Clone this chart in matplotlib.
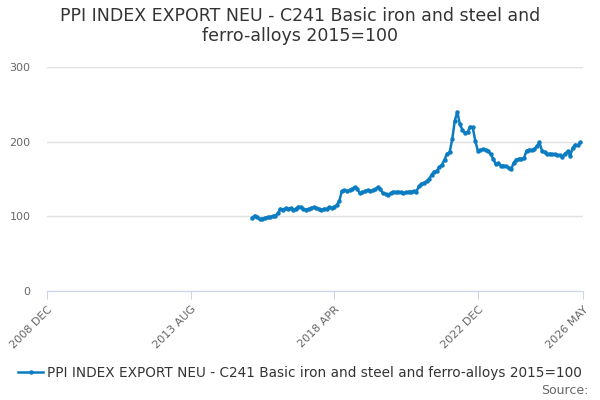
import numpy as np
import matplotlib.pyplot as plt

# monthly values, 2015-08 .. 2026-04
start_month = 80  # months since 2008-12
values = [
    98, 101, 99, 96, 97, 98, 99, 99, 100, 101, 104, 110,
    109, 111, 110, 111, 109, 110, 113, 112, 110, 109, 110, 111,
    112, 111, 110, 109, 110, 110, 112, 111, 113, 115, 121, 134,
    135, 134, 135, 137, 139, 136, 131, 132, 134, 135, 134, 135,
    136, 139, 136, 131, 130, 129, 131, 133, 132, 133, 132, 131,
    132, 133, 133, 134, 133, 140, 143, 145, 147, 150, 156, 160,
    161, 166, 169, 176, 184, 186, 203, 228, 240, 223, 216, 211,
    213, 220, 219, 201, 188, 189, 190, 189, 188, 183, 177, 170,
    171, 168, 168, 167, 165, 163, 172, 176, 177, 177, 178, 188,
    189, 189, 190, 194, 199, 188, 186, 183, 184, 183, 183, 182,
    182, 180, 184, 187, 181, 192, 196, 195, 199,
]
tick_pos = [0, 56, 112, 168, 209]
tick_labels = ["2008 DEC", "2013 AUG", "2018 APR", "2022 DEC", "2026 MAY"]
label = "PPI INDEX EXPORT NEU - C241 Basic iron and steel and ferro-alloys 2015=100"

months = np.arange(start_month, start_month + len(values))
color = "#0a7cc1"

fig = plt.figure(figsize=(6, 4), dpi=100)
ax = fig.add_axes([47/600, 1 - 291/400, 536/600, 224/400])
ax.plot(months, values, color=color, lw=1.8, marker="o", ms=2.2, label=label)
ax.set_xlim(0, 209)
ax.set_ylim(0, 300)
ax.set_yticks([0, 100, 200, 300])
ax.set_xticks(tick_pos)
ax.set_xticklabels(tick_labels, rotation=45, ha="right", rotation_mode="anchor")
ax.grid(axis="y", color="#e0e0e0", lw=1)
ax.set_axisbelow(True)
for s in ["top", "right", "left"]:
    ax.spines[s].set_visible(False)
ax.spines["bottom"].set_color("#ccd6eb")
ax.tick_params(axis="y", length=0, colors="#666666", labelsize=8, pad=12)
ax.tick_params(axis="x", colors="#666666", labelsize=8, color="#ccd6eb", length=6)

fig.text(0.5, 0.935, "PPI INDEX EXPORT NEU - C241 Basic iron and steel and\nferro-alloys 2015=100",
         ha="center", va="center", fontsize=12.5, color="#333333", linespacing=1.2)
fig.legend(loc="center", bbox_to_anchor=(0.5, 1 - 373/400), frameon=False,
           fontsize=9.8, labelcolor="#333333", handlelength=1.8, handletextpad=0.3)
fig.text(0.98, 1 - 390/400, "Source:", ha="right", va="center", fontsize=9, color="#666666")
fig.savefig("out.png")
